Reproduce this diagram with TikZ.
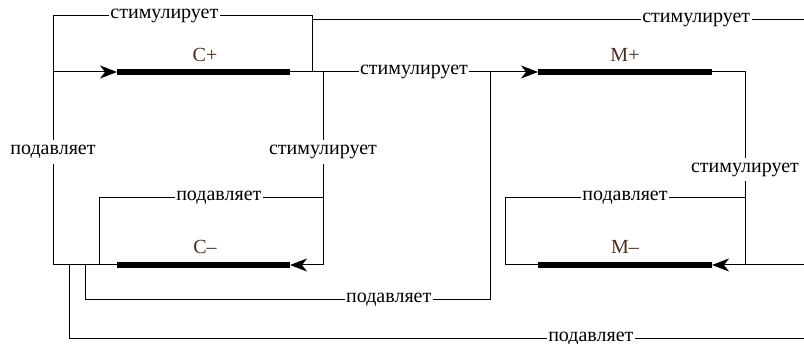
\documentclass[tikz,border=0pt]{standalone}
\usepackage{fontspec}
\setmainfont{Liberation Serif}
\usetikzlibrary{arrows.meta}
\definecolor{namebrown}{HTML}{4A2C1E}
\tikzset{
  link/.style={line width=1pt},
  bar/.style={line width=6pt},
  lbl/.style={fill=white, inner xsep=1.5pt, inner ysep=5pt, font=\fontsize{20}{24}\selectfont},
  species/.style={text=namebrown, font=\fontsize{20}{24}\selectfont},
  tip/.style={-{Stealth[length=17pt,width=13pt,inset=5pt]}}
}
\begin{document}
\begin{tikzpicture}[x=1pt,y=-1pt]
\useasboundingbox (0,0) rectangle (804,344);
% bar end points
\coordinate (cp1) at (117,72);  \coordinate (cp2) at (290,72);
\coordinate (cm1) at (117,265); \coordinate (cm2) at (290,265);
\coordinate (mp1) at (538,72);  \coordinate (mp2) at (712,72);
\coordinate (mm1) at (538,265); \coordinate (mm2) at (712,265);
% junctions
\coordinate (jA) at (312,72);  \coordinate (jB) at (323,72);
\coordinate (jC) at (490,72);  \coordinate (jD) at (745,72);
\coordinate (jL) at (53,72);   \coordinate (jE) at (99,265);
\coordinate (jF) at (85,265);  \coordinate (jG) at (69,265);
\coordinate (jH) at (323,198); \coordinate (jI) at (745,198);
\coordinate (jJ) at (312,20);  \coordinate (jK) at (745,265);
\coordinate (eR1) at (804,20); \coordinate (eR2) at (804,265);
\coordinate (eR3) at (804,339);

% C+ stimulates itself (top loop)
\draw[link] (cp2) -- (jA) -- (312,16) -- node[lbl,pos=0.57] (s1) {стимулирует} (53,16) -- (jL);
% C- suppresses C+ (left loop)
\draw[link] (cm1) -- (53,265) -- node[lbl,pos=0.585] (p1) {подавляет} (jL);
\draw[link,tip] (jL) -- (cp1);
% C+ stimulates M+
\draw[link] (cp2) -- node[lbl,pos=0.62] (s2) {стимулирует} (jC);
\draw[link,tip] (jC) -- (mp1);
% C+ stimulates C-
\draw[link] (jB) -- node[lbl,pos=0.415] (s3) {стимулирует} (323,265);
\draw[link,tip] (323,265) -- (cm2);
% C- suppresses itself
\draw[link] (jH) -- node[lbl,pos=0.465] (p2) {подавляет} (99,198) -- (jE);
% C- suppresses M+
\draw[link] (jF) -- (85,300) -- node[lbl,pos=0.75] (p3) {подавляет} (490,300) -- (jC);
% C- suppresses M- (far bottom)
\draw[link] (jG) -- (69,339) -- node[lbl,pos=0.71] (p4) {подавляет} (eR3);
% C+ stimulates M- (far top)
\draw[link] (jJ) -- node[lbl,pos=0.781] (s4) {стимулирует} (eR1);
% M+ stimulates M-
\draw[link] (mp2) -- (jD) -- node[lbl,pos=0.505] (s5) {стимулирует} (jK);
\draw[link,tip] (eR2) -- (mm2);
% M- suppresses itself
\draw[link] (jI) -- node[lbl,pos=0.5] (p5) {подавляет} (505,198) -- (505,265) -- (mm1);

% bars
\draw[bar] (cp1) -- (cp2);
\draw[bar] (cm1) -- (cm2);
\draw[bar] (mp1) -- (mp2);
\draw[bar] (mm1) -- (mm2);

% species names
\node[species] (nCp) at (205,55) {C+};
\node[species] (nCm) at (205,247) {C–};
\node[species] (nMp) at (625,55) {M+};
\node[species] (nMm) at (625,247) {M–};
\end{tikzpicture}
\end{document}
